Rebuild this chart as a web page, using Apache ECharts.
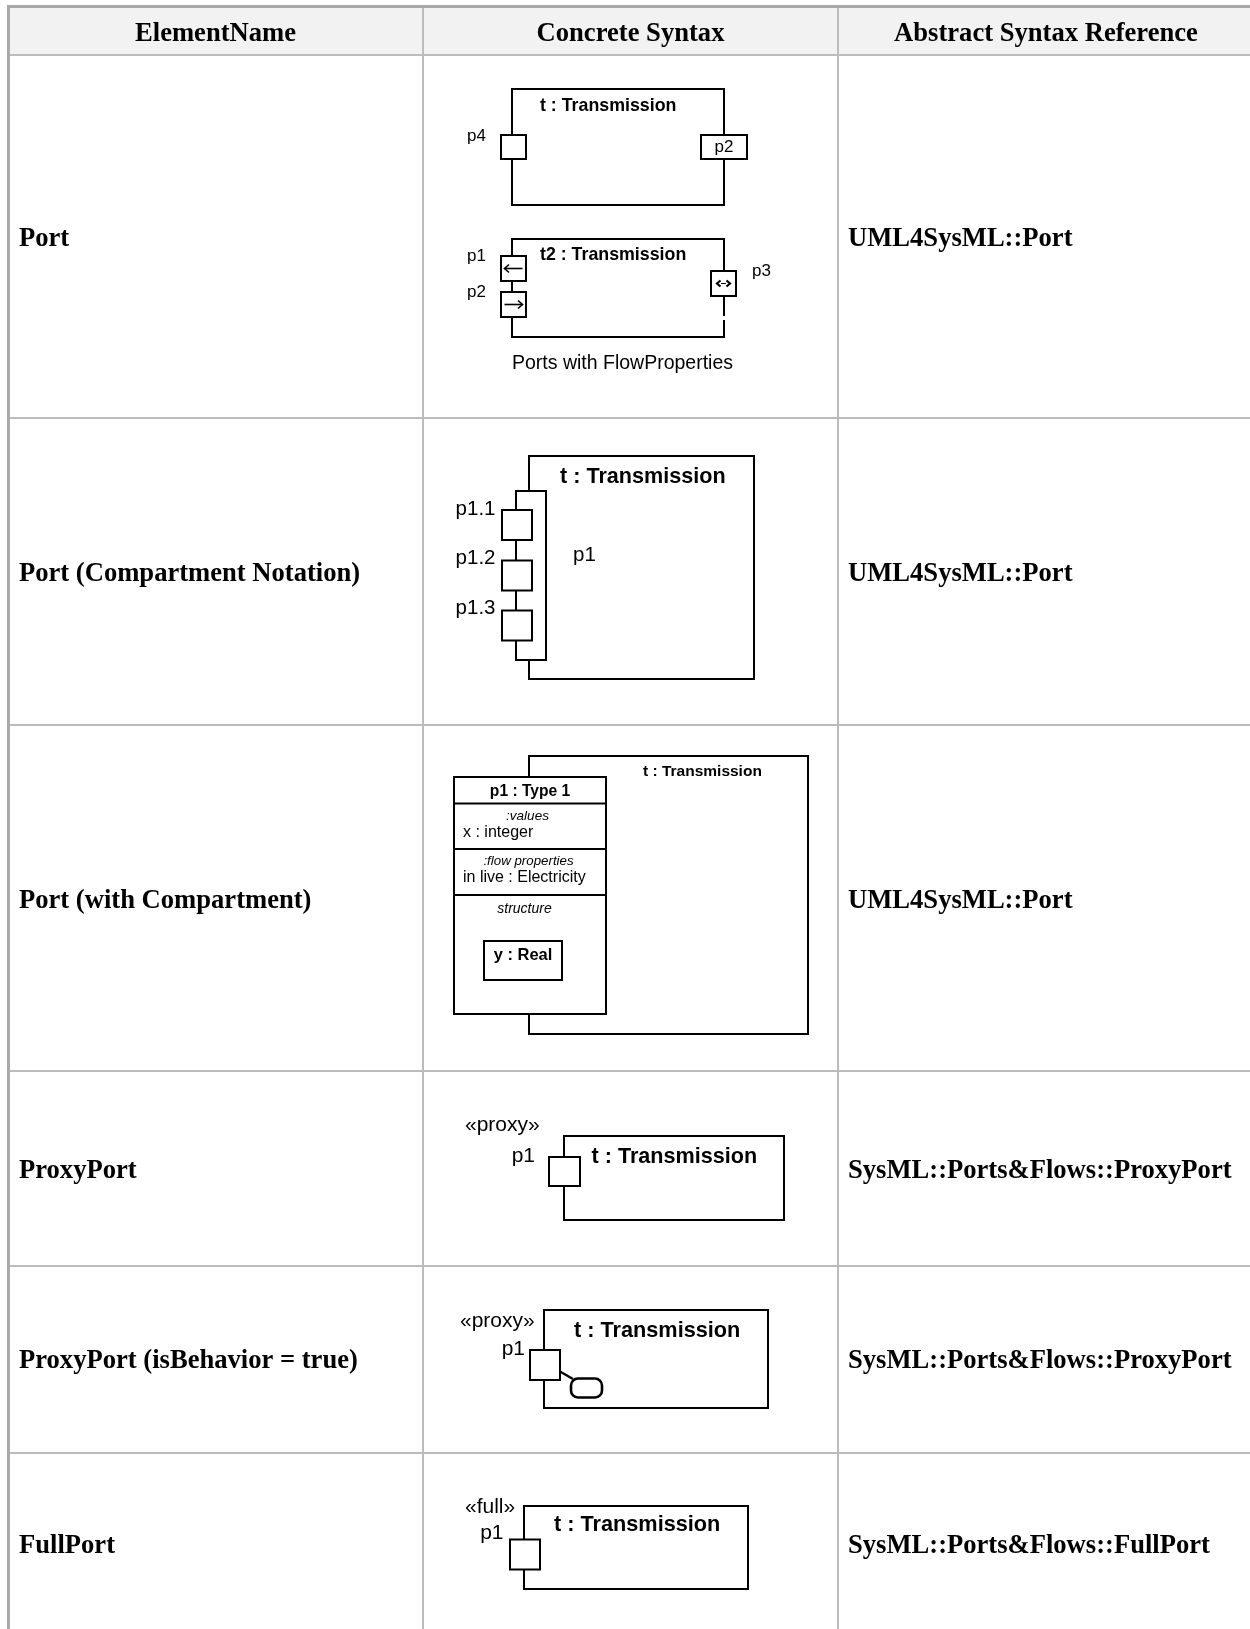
<!DOCTYPE html>
<html>
<head>
<meta charset="utf-8">
<script src="https://cdn.jsdelivr.net/npm/echarts@6/dist/echarts.min.js"></script>
<style>
html,body{margin:0;padding:0;background:#fff;overflow:hidden;}
#chart{width:1250px;height:1629px;}
</style>
</head>
<body>
<div id="chart"></div>
<script>
// ---- table content ----
const headers = ['ElementName', 'Concrete Syntax', 'Abstract Syntax Reference'];
const elementNames = ['Port', 'Port (Compartment Notation)', 'Port (with Compartment)', 'ProxyPort', 'ProxyPort (isBehavior = true)', 'FullPort'];
const abstractRefs = ['UML4SysML::Port', 'UML4SysML::Port', 'UML4SysML::Port', 'SysML::Ports&Flows::ProxyPort', 'SysML::Ports&Flows::ProxyPort', 'SysML::Ports&Flows::FullPort'];

// ---- diagram texts ----
const partTitle = 't : Transmission';
const partTitle2 = 't2 : Transmission';
const flowCaption = 'Ports with FlowProperties';
const compLabels = ['p1.1', 'p1.2', 'p1.3'];
const compTexts = ['p1 : Type 1', ':values', 'x : integer', ':flow properties', 'in live : Electricity', 'structure', 'y : Real'];
const stereoProxy = '\u00abproxy\u00bb';
const stereoFull = '\u00abfull\u00bb';

const SERIF = '"Liberation Serif","Times New Roman",serif';
const SANS = '"Liberation Sans",Arial,sans-serif';
const G = [];

function rect(x, y, w, h, o) {
  o = o || {};
  G.push({type: 'rect', silent: true, z: o.z || 10,
    shape: {x: x, y: y, width: w, height: h, r: o.r || 0},
    style: {fill: o.fill === undefined ? '#fff' : o.fill, stroke: o.stroke === undefined ? '#000' : o.stroke, lineWidth: o.lw === undefined ? 2 : o.lw}});
}
function line(x1, y1, x2, y2, o) {
  o = o || {};
  G.push({type: 'line', silent: true, z: o.z || 10,
    shape: {x1: x1, y1: y1, x2: x2, y2: y2},
    style: {stroke: o.stroke || '#000', lineWidth: o.lw || 2}});
}
function poly(pts, o) {
  o = o || {};
  G.push({type: 'polyline', silent: true, z: o.z || 12,
    shape: {points: pts},
    style: {stroke: '#000', fill: null, lineWidth: o.lw || 1.6}});
}
function text(str, x, y, size, o) {
  o = o || {};
  const font = (o.italic ? 'italic ' : '') + (o.bold ? 'bold ' : '') + size + 'px ' + (o.family || SANS);
  const dy = o.family === SERIF ? 0 : 1.2;
  G.push({type: 'text', silent: true, z: o.z || 20,
    style: {text: str, x: x, y: y + dy, font: font, fill: '#000',
      align: o.align || 'left', textAlign: o.align || 'left',
      verticalAlign: 'middle', textVerticalAlign: 'middle'}});
}

// ---- table frame ----
const W = 1250;
const colX = [8, 423, 838];
const rowY = [55, 418, 725, 1071, 1266, 1453, 1636];
rect(8, 7, W - 8, 48, {fill: '#f2f2f2', stroke: null, lw: 0, z: 1});
for (let i = 0; i < rowY.length - 1; i++) {
  line(9, rowY[i], W, rowY[i], {stroke: '#bcbcbc', lw: 2, z: 2});
}
line(colX[1], 7, colX[1], 1629, {stroke: '#bcbcbc', lw: 2, z: 2});
line(colX[2], 7, colX[2], 1629, {stroke: '#bcbcbc', lw: 2, z: 2});
line(7, 6.5, W, 6.5, {stroke: '#a9a9a9', lw: 3, z: 3});
line(8.5, 5, 8.5, 1629, {stroke: '#a9a9a9', lw: 3, z: 3});

// header
const headCx = [(colX[0] + colX[1]) / 2, (colX[1] + colX[2]) / 2, 1046];
headers.forEach((h, i) => text(h, headCx[i], 34.5, 26.6, {bold: true, family: SERIF, align: 'center'}));
// rows
const rowCy = [239, 574, 901, 1171, 1361.5, 1546];
elementNames.forEach((n, i) => text(n, 19, rowCy[i], 26.6, {bold: true, family: SERIF}));
abstractRefs.forEach((n, i) => text(n, 848, rowCy[i], 26.6, {bold: true, family: SERIF}));

// ---- Row 1: Port ----
rect(512, 89, 212, 116);
text(partTitle, 540, 105, 17.8, {bold: true});
rect(501, 135, 25, 24);
text('p4', 467, 135, 17);
rect(701, 135, 46, 24);
text('p2', 724, 146, 17, {align: 'center'});

rect(512, 239, 212, 98);
rect(721, 316, 6, 4, {fill: '#fff', stroke: null, lw: 0, z: 11});
text(partTitle2, 540, 253.5, 17.8, {bold: true});
rect(501, 256, 25, 25, {z: 11});
line(504.5, 268.5, 522.5, 268.5, {lw: 1.6, z: 12});
poly([[509, 264.5], [504.5, 268.5], [509, 272.5]]);
rect(501, 292, 25, 25, {z: 11});
line(504.5, 304.5, 522.5, 304.5, {lw: 1.6, z: 12});
poly([[518, 300.5], [522.5, 304.5], [518, 308.5]]);
text('p1', 467, 255, 17);
text('p2', 467, 291, 17);
rect(711, 271, 25, 25, {z: 11});
poly([[720.5, 280.5], [717, 283.5], [720.5, 286.5]], {lw: 2.2});
poly([[726.5, 280.5], [730, 283.5], [726.5, 286.5]], {lw: 2.2});
line(721, 283.5, 726, 283.5, {lw: 1, z: 12});
text('p3', 752, 270, 17);
text(flowCaption, 622.5, 362, 19.5, {align: 'center'});

// ---- Row 2: Port (Compartment Notation) ----
rect(529, 456, 225, 223);
text(partTitle, 560, 476, 21.6, {bold: true});
rect(516, 491, 30, 169, {z: 11});
[510, 560.5, 610.5].forEach((y, i) => {
  rect(502, y, 30, 30, {z: 12});
});
[508, 557, 607].forEach((y, i) => text(compLabels[i], 495.5, y, 20.5, {align: 'right'}));
text('p1', 573, 554, 20.5);

// ---- Row 3: Port (with Compartment) ----
rect(529, 756, 279, 278);
text(partTitle, 643, 771, 15.5, {bold: true});
rect(454, 777, 152, 237, {z: 11});
line(454, 803.5, 606, 803.5, {z: 12});
line(454, 849, 606, 849, {z: 12});
line(454, 895, 606, 895, {z: 12});
text(compTexts[0], 530, 790.5, 15.6, {bold: true, align: 'center'});
text(compTexts[1], 527.5, 815.5, 13.5, {italic: true, align: 'center'});
text(compTexts[2], 463, 831, 16);
text(compTexts[3], 528.5, 860.5, 13.3, {italic: true, align: 'center'});
text(compTexts[4], 463, 876.5, 16);
text(compTexts[5], 524.5, 907.5, 14, {italic: true, align: 'center'});
rect(484, 941, 78, 39, {z: 12});
text(compTexts[6], 523, 954.5, 16.5, {bold: true, align: 'center'});

// ---- Row 4: ProxyPort ----
rect(564, 1136, 220, 84);
rect(549, 1157, 31, 29, {z: 11});
text(stereoProxy, 465, 1124, 21);
text('p1', 535, 1155.5, 21, {align: 'right'});
text(partTitle, 591.5, 1156, 21.6, {bold: true});

// ---- Row 5: ProxyPort (isBehavior = true) ----
rect(544, 1310, 224, 98);
rect(530, 1350, 30, 30, {z: 11});
line(560, 1371.5, 573, 1379, {lw: 2.4, z: 12});
rect(571, 1378.5, 31, 19, {r: 7, lw: 2.6, z: 12});
text(stereoProxy, 460, 1320, 21);
text('p1', 525, 1348, 21, {align: 'right'});
text(partTitle, 574, 1330, 21.7, {bold: true});

// ---- Row 6: FullPort ----
rect(524, 1506, 224, 83);
rect(510, 1539.5, 30, 30, {z: 11});
text(stereoFull, 465, 1506, 21);
text('p1', 503.5, 1532.5, 21, {align: 'right'});
text(partTitle, 554, 1524, 21.7, {bold: true});

const chart = echarts.init(document.getElementById('chart'), null, {renderer: 'canvas', width: 1250, height: 1629});
chart.setOption({
  animation: false,
  backgroundColor: '#ffffff',
  graphic: {elements: G}
});
</script>
</body>
</html>
